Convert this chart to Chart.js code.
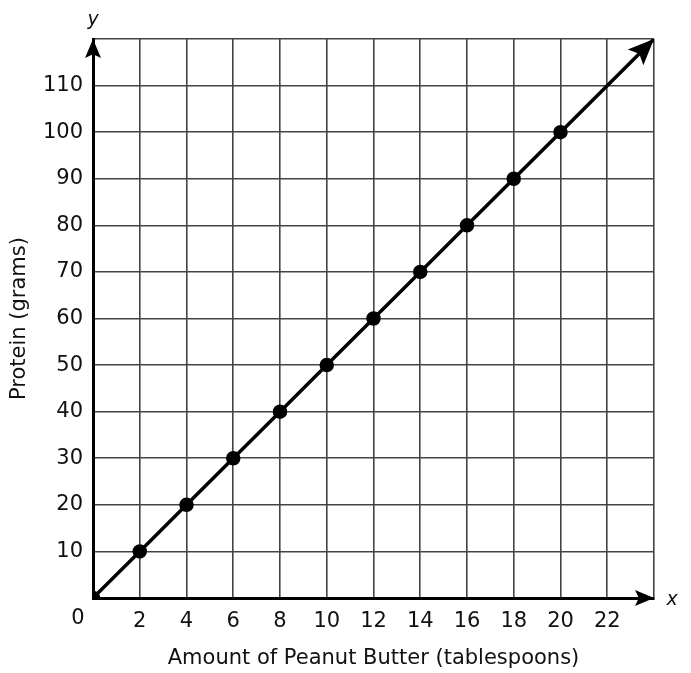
<!DOCTYPE html>
<html>
<head>
<meta charset="utf-8">
<script src="https://cdn.jsdelivr.net/npm/chart.js@4"></script>
<style>
  body { margin: 0; background: #fff; }
  canvas { display: block; }
</style>
</head>
<body>
<canvas id="myChart" width="691" height="673"></canvas>
<script>
// tablespoons of peanut butter vs grams of protein
const tablespoons = [0, 2, 4, 6, 8, 10, 12, 14, 16, 18, 20];
const protein = [0, 10, 20, 30, 40, 50, 60, 70, 80, 90, 100];
// where the line keeps going (arrow end)
const arrowEnd = [24, 120];
// tick labels shown on the axes
const xTickLabels = [2, 4, 6, 8, 10, 12, 14, 16, 18, 20, 22];
const yTickLabels = [10, 20, 30, 40, 50, 60, 70, 80, 90, 100, 110];

const textColor = '#111';
const fontFamily = "'DejaVu Sans', Verdana, sans-serif";
Chart.defaults.font.family = fontFamily;
Chart.defaults.font.size = 21;
Chart.defaults.color = textColor;

function arrowHead(ctx, x, y, angle, len, half) {
    ctx.save();
    ctx.translate(x, y);
    ctx.rotate(angle);
    ctx.beginPath();
    ctx.moveTo(0, 0);
    ctx.lineTo(-len, -half);
    ctx.lineTo(-len * 0.8, 0);
    ctx.lineTo(-len, half);
    ctx.closePath();
    ctx.fillStyle = '#000';
    ctx.fill();
    ctx.restore();
}

// arrows, axis titles and the corner "0"
const extras = {
    id: 'extras',
    afterDraw(chart) {
        const ctx = chart.ctx;
        const xs = chart.scales.x, ys = chart.scales.y;
        const area = chart.chartArea;

        // axis arrows
        arrowHead(ctx, area.left, area.top, -Math.PI / 2, 19, 8);
        arrowHead(ctx, area.right, area.bottom, 0, 19, 8);

        // line arrow
        const x0 = xs.getPixelForValue(tablespoons[tablespoons.length - 1]);
        const y0 = ys.getPixelForValue(protein[protein.length - 1]);
        const x1 = xs.getPixelForValue(arrowEnd[0]);
        const y1 = ys.getPixelForValue(arrowEnd[1]);
        arrowHead(ctx, x1, y1, Math.atan2(y1 - y0, x1 - x0), 26, 11);

        ctx.save();
        ctx.fillStyle = textColor;
        ctx.font = '21px ' + fontFamily;
        ctx.textAlign = 'center';
        ctx.textBaseline = 'middle';
        ctx.fillText('0', area.left - 15, area.bottom + 21);

        ctx.textBaseline = 'alphabetic';
        ctx.fillText('Amount of Peanut Butter (tablespoons)', (area.left + area.right) / 2, 664);

        ctx.save();
        ctx.translate(25, (area.top + area.bottom) / 2);
        ctx.rotate(-Math.PI / 2);
        ctx.fillText('Protein (grams)', 0, 0);
        ctx.restore();

        ctx.font = 'italic 19px ' + fontFamily;
        ctx.textBaseline = 'middle';
        ctx.fillText('y', area.left, 20);
        ctx.fillText('x', area.right + 18, area.bottom + 2);
        ctx.restore();
    }
};

const ctx = document.getElementById('myChart').getContext('2d');
const myChart = new Chart(ctx, {
    type: 'scatter',
    data: {
        datasets: [{
            label: 'Protein',
            data: tablespoons.map((t, i) => ({ x: t, y: protein[i] })),
            showLine: true,
            borderColor: '#000',
            backgroundColor: '#000',
            borderWidth: 3.5,
            pointRadius: 5.5,
            pointHoverRadius: 5.5
        }, {
            label: 'Extension',
            data: [
                { x: tablespoons[tablespoons.length - 1], y: protein[protein.length - 1] },
                { x: arrowEnd[0], y: arrowEnd[1] }
            ],
            showLine: true,
            borderColor: '#000',
            borderWidth: 3.5,
            pointRadius: 0
        }]
    },
    plugins: [extras],
    options: {
        responsive: false,
        animation: false,
        layout: { padding: { top: 39, right: 37, left: 0, bottom: 0 } },
        plugins: {
            legend: { display: false },
            tooltip: { enabled: false }
        },
        scales: {
            x: {
                type: 'linear',
                min: 0,
                max: 24,
                afterFit: s => { s.height = 75; },
                grid: { color: '#444', lineWidth: 1.6, drawTicks: false },
                border: { color: '#000', width: 3 },
                ticks: {
                    stepSize: 2,
                    autoSkip: false,
                    maxRotation: 0,
                    padding: 11,
                    color: textColor,
                    callback: v => xTickLabels.includes(v) ? v : ''
                }
            },
            y: {
                min: 0,
                max: 120,
                afterFit: s => { s.width = 93; },
                grid: { color: '#444', lineWidth: 1.6, drawTicks: false },
                border: { color: '#000', width: 3 },
                ticks: {
                    stepSize: 10,
                    autoSkip: false,
                    padding: 10,
                    color: textColor,
                    callback: v => yTickLabels.includes(v) ? v : ''
                }
            }
        }
    }
});
</script>
</body>
</html>
